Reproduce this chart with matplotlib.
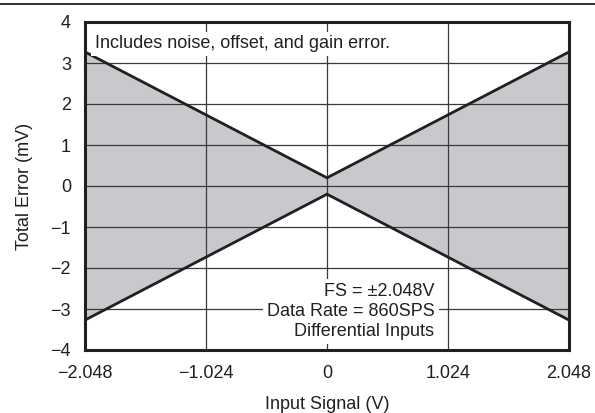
import matplotlib
matplotlib.use("Agg")
import matplotlib.pyplot as plt
from matplotlib.lines import Line2D

plt.rcParams['font.family'] = ['Liberation Sans', 'DejaVu Sans']

# Error envelope vs. input signal
x_points = [-2.048, 0.0, 2.048]
upper_err = [3.27, 0.2, 3.27]
lower_err = [-3.27, -0.2, -3.27]

x_ticks = [-2.048, -1.024, 0, 1.024, 2.048]
x_tick_labels = ['\u22122.048', '\u22121.024', '0', '1.024', '2.048']
y_ticks = [-4, -3, -2, -1, 0, 1, 2, 3, 4]
y_tick_labels = ['\u22124', '\u22123', '\u22122', '\u22121', '0', '1', '2', '3', '4']

FS = 13

fig = plt.figure(figsize=(5.95, 4.13), dpi=100)
ax = fig.add_axes([85 / 595, 1 - 350 / 413, (569 - 85) / 595, (350 - 22) / 413])

ax.fill_between(x_points, lower_err, upper_err, color='#c8c9cc', zorder=1, linewidth=0)
ax.plot(x_points, upper_err, color='#231f20', lw=2.0, zorder=3, solid_joinstyle='miter')
ax.plot(x_points, lower_err, color='#231f20', lw=2.0, zorder=3, solid_joinstyle='miter')

ax.set_xlim(-2.048, 2.048)
ax.set_ylim(-4, 4)
ax.set_xticks(x_ticks)
ax.set_xticklabels(x_tick_labels)
ax.set_yticks(y_ticks)
ax.set_yticklabels(y_tick_labels)
ax.tick_params(length=0, labelsize=FS, pad=10, colors='#231f20')
ax.tick_params(axis='x', pad=11)
ax.grid(True, color='#3a3a3a', lw=0.9, zorder=2)
ax.set_axisbelow(False)
for s in ax.spines.values():
    s.set_linewidth(2.2)
    s.set_color('#231f20')
    s.set_zorder(5)

ax.set_xlabel('Input Signal (V)', fontsize=FS, labelpad=10, color='#231f20')
ax.set_ylabel('Total Error (mV)', fontsize=FS, labelpad=13, color='#231f20')

ax.text(0.02, 0.96, 'Includes noise, offset, and gain error.', transform=ax.transAxes,
        fontsize=FS, ha='left', va='top', color='#231f20', zorder=4,
        bbox=dict(facecolor='white', edgecolor='none', pad=2.5))

ax.text(0.722, 0.03, 'FS = \u00b12.048V\nData Rate = 860SPS\nDifferential Inputs',
        transform=ax.transAxes, fontsize=FS, ha='right', va='bottom', color='#231f20',
        linespacing=1.25, zorder=4,
        bbox=dict(facecolor='white', edgecolor='none', pad=3))

# Rule across the top of the figure
fig.add_artist(Line2D([0, 1], [1 - 4 / 413, 1 - 4 / 413], color='#231f20', lw=1.3))

fig.savefig('out.png', dpi=100)
